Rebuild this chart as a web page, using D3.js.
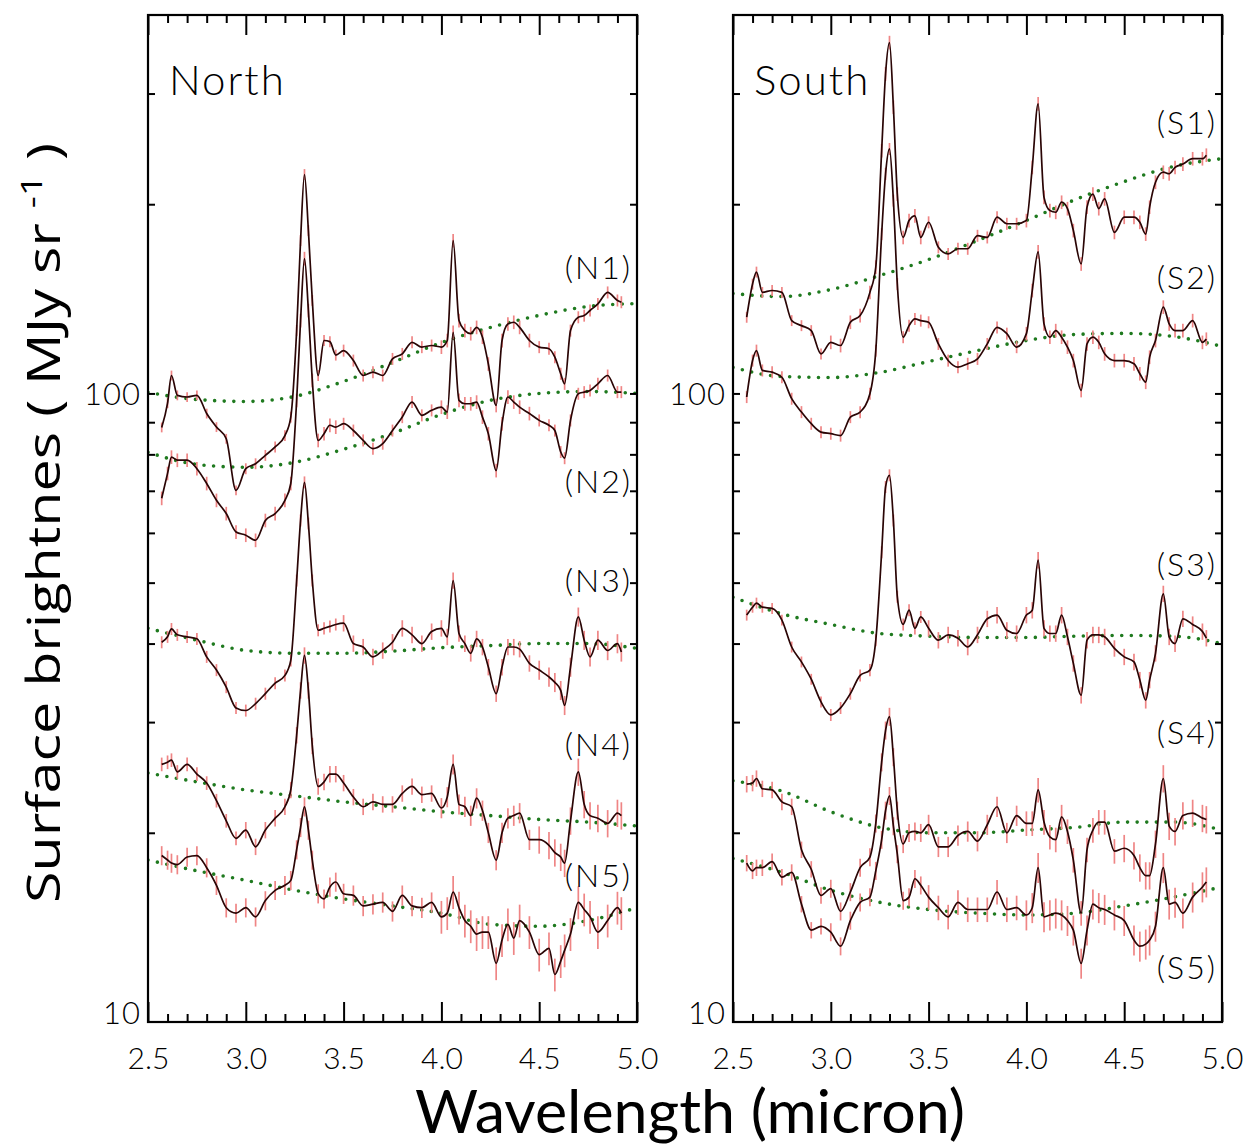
<!DOCTYPE html>
<html><head><meta charset="utf-8">
<script src="https://cdn.jsdelivr.net/npm/d3@7"></script>
<style>body{margin:0;background:#fff} svg{display:block}</style>
</head><body>
<svg id="chart" width="1253" height="1147"></svg>
<script>
// ---------------- DATA ----------------
const wavelength = [2.57,2.60,2.62,2.65,2.70,2.75,2.80,2.85,2.90,2.95,3.00,3.05,3.10,3.15,3.20,3.23,3.26,3.28,3.30,3.32,3.34,3.37,3.40,3.43,3.46,3.50,3.55,3.60,3.65,3.70,3.75,3.80,3.85,3.90,3.95,4.00,4.03,4.06,4.09,4.12,4.15,4.18,4.21,4.24,4.28,4.31,4.34,4.37,4.40,4.45,4.50,4.55,4.58,4.61,4.63,4.66,4.70,4.73,4.76,4.80,4.85,4.90,4.92];

const N1 = [88.3,96.5,106.8,99.3,98.7,99.3,92.9,88.4,84.7,70.1,75.9,77.3,79.7,82.2,85.7,91.7,125.9,175.1,223,181.6,140.6,106.8,121.4,120.9,115.1,117.0,112.8,106.8,108.1,106.8,113.5,115.6,120.6,118.5,119.2,118.5,121.4,175,130.6,125.9,124.5,127.4,122.9,111.4,95.7,121.4,129.0,129.8,127.4,121.4,118.5,117.8,114.2,107.5,103.6,125.9,132.2,133.0,135.5,138.8,144.8,140.6,139.7];
const N2 = [68.1,74.6,79.2,78.3,78.3,75.9,71.9,67.6,64.4,60.2,59.5,58.4,62.8,64.4,67.6,71.9,97.5,130.6,163.9,135.5,104.9,84.2,86.3,89.0,88.4,89.5,87.3,84.2,81.7,83.2,87.3,91.7,96.9,92.3,94.0,95.1,93.4,125.1,97.5,96.3,96.3,96.9,91.7,86.3,75.4,89.5,98.7,96.9,95.1,92.9,90.6,89.0,87.3,80.7,78.9,90.6,99.9,100.5,101.1,103.6,106.8,100.5,100.5];
const N3 = [40.2,41.0,42.2,41.3,41.0,40.7,38.1,36.3,34.1,31.6,31.3,32.1,33.3,34.6,35.6,37.6,50.4,62.8,72.2,62.1,50.4,42.0,42.3,42.6,42.9,43.1,40.0,39.5,38.1,39.0,40.2,42.3,41.3,40.0,41.8,42.3,41.0,50.4,41.5,40.0,38.6,40.7,39.5,36.7,33.3,36.7,39.5,39.5,39.2,37.2,36.3,35.4,34.7,33.7,31.9,36.7,44.1,40.5,38.1,40.5,39.0,40.0,38.8];
const N4 = [25.7,25.9,26.1,25.0,25.7,24.8,24.0,22.5,20.9,19.6,20.2,19.0,20.2,21.1,22.0,23.4,28.6,33.7,38.3,33.7,27.5,23.7,24.1,24.8,24.8,24.0,22.8,22.0,22.4,22.2,22.2,23.1,23.7,23.0,23.1,21.9,22.8,25.7,22.2,22.0,21.3,22.7,21.7,20.0,18.1,20.0,21.1,21.3,21.5,19.5,19.5,19.1,18.6,18.3,17.9,20.9,25.0,22.2,21.3,21.1,20.7,21.5,21.3];
const N5 = [18.4,18.1,17.9,17.8,18.3,18.4,17.6,16.5,15.2,14.9,15.2,14.7,15.6,16.2,16.5,16.8,18.8,20.4,22.0,20.2,18.1,16.0,15.7,16.4,16.7,16.0,15.9,15.3,15.4,15.5,15.0,15.9,15.3,15.2,15.5,14.7,14.9,16.1,15.2,14.5,14.2,13.8,13.9,13.9,12.4,13.5,14.3,13.6,14.5,13.9,12.8,13.1,11.9,12.5,13.0,13.8,15.5,15.1,14.7,13.9,14.5,15.2,14.9];

const S1 = [132.2,149.3,156.0,144.8,145.8,144.8,130.6,128.2,125.9,115.6,120.6,119.2,129.8,133.0,144.8,158.9,243.4,322.5,361.6,285.4,207.6,177.1,188.4,191.7,177.1,187.2,170.8,166.7,169.9,169.9,178.2,177.1,190.7,186.2,186.2,188.4,228.9,289.0,205.1,195.4,194.2,201.5,196.8,181.6,160.7,197.9,207.6,196.8,204.0,180.4,190.7,190.7,187.2,179.3,197.9,216.8,224.9,223.6,228.9,231.7,236.3,236.3,239.4];
const S2 = [98.7,112.8,117.0,108.8,108.1,106.1,98.1,93.4,89.5,86.8,86.3,85.7,91.7,93.4,99.9,117.0,179.3,223.6,244.9,202.7,149.3,122.9,128.2,131.4,130.6,129.8,119.9,112.8,110.1,111.5,113.5,119.9,127.4,124.5,118.5,124.5,145.8,168.0,129.0,122.9,125.9,122.9,118.5,112.8,101.1,119.9,122.9,120.6,115.6,112.8,112.8,111.5,107.5,104.2,114.2,121.4,137.2,129.0,125.9,125.9,130.6,120.6,122.0];
const S3 = [44.4,45.7,46.4,45.7,45.5,43.6,39.5,37.4,35.1,32.3,30.8,31.6,33.3,35.6,36.3,40.5,55.9,71.0,74.1,62.8,47.5,42.9,45.2,42.3,44.1,42.3,40.5,41.3,40.8,39.5,41.3,43.8,44.4,42.0,41.5,44.4,45.2,54.3,42.3,41.5,41.5,44.4,41.0,37.2,33.1,40.5,41.3,41.3,41.0,39.3,38.1,37.4,35.0,32.5,35.0,38.6,48.0,41.0,40.0,43.8,42.9,41.8,40.8];
const S4 = [23.9,24.0,24.4,23.5,23.4,22.4,22.0,18.8,17.5,15.9,16.3,15.0,16.1,17.6,18.3,20.7,25.9,29.1,30.6,26.4,21.7,19.2,20.0,20.1,20.0,20.6,19.0,19.0,19.8,20.1,19.4,20.6,22.0,20.0,21.3,20.7,20.7,23.4,20.8,19.7,19.5,21.2,20.1,18.1,14.9,18.8,20.2,20.8,20.8,18.7,18.9,18.4,17.6,17.1,17.1,19.2,24.4,20.5,20.1,21.3,21.5,21.1,21.0];
const S5 = [17.9,17.4,17.6,17.6,18.0,17.0,17.3,15.4,14.0,14.2,13.9,13.2,14.5,15.5,15.8,17.4,19.5,21.7,22.9,20.5,18.5,15.6,15.8,16.9,16.5,15.8,15.2,14.7,15.5,15.1,15.1,15.1,16.1,15.1,15.2,14.8,15.2,17.6,14.7,14.8,14.9,14.8,14.5,14.0,12.4,14.0,15.4,15.2,15.1,14.8,14.5,13.5,13.2,13.3,13.5,14.2,17.6,15.4,15.5,14.9,15.8,16.4,16.7];

// continuum (dotted green) sampled at these wavelengths
const contWavelength = [2.5,2.75,3.0,3.25,3.5,3.75,4.0,4.25,4.5,4.75,5.0];
const N1cont = [100.4,97.8,97.1,98.9,104.5,112.0,120.5,127.3,133.1,137.5,139.0];
const N2cont = [80.6,77.1,76.3,77.7,81.5,86.4,92.6,97.5,100.0,100.7,100.0];
const N3cont = [42.3,40.5,39.0,38.6,38.6,38.9,39.4,39.7,40.0,40.0,39.3];
const N4cont = [24.9,24.1,23.4,22.9,22.4,22.0,21.6,21.3,21.0,20.8,20.5];
const N5cont = [18.1,17.4,16.8,16.2,15.7,15.3,14.9,14.3,14.2,14.5,15.2];
const S1cont = [144.2,142.6,146.3,154.0,163.3,175.1,188.4,203.4,217.3,229.6,236.3];
const S2cont = [110.0,106.4,106.0,108.0,112.4,117.0,121.4,124.1,124.6,123.2,118.8];
const S3cont = [47.4,44.6,42.9,41.5,41.1,40.9,40.9,41.1,41.2,41.1,40.0];
const S4cont = [24.2,23.3,21.6,20.4,20.0,20.0,20.2,20.4,20.8,20.8,20.2];
const S5cont = [18.2,17.3,16.2,15.5,15.1,14.9,14.8,14.9,15.3,15.8,16.4];

// relative error per wavelength band [2.5-3.0, 3.0-3.5, 3.5-4.0, 4.0-4.5, 4.5-5.0]
const errBandEdges = [2.5,3.0,3.5,4.0,4.5,5.0];
const N1err = [0.018,0.02,0.022,0.025,0.022];
const N2err = [0.025,0.025,0.022,0.025,0.022];
const N3err = [0.022,0.022,0.03,0.03,0.035];
const N4err = [0.025,0.03,0.03,0.037,0.05];
const N5err = [0.035,0.035,0.037,0.06,0.06];
const S1err = [0.02,0.025,0.022,0.025,0.025];
const S2err = [0.022,0.022,0.022,0.025,0.025];
const S3err = [0.02,0.022,0.03,0.03,0.03];
const S4err = [0.03,0.033,0.037,0.045,0.05];
const S5err = [0.03,0.033,0.045,0.055,0.055];

const panelTitles = ["North","South"];
const northLabels = ["(N1)","(N2)","(N3)","(N4)","(N5)"];
const southLabels = ["(S1)","(S2)","(S3)","(S4)","(S5)"];
const xMajorTicks = [2.5,3.0,3.5,4.0,4.5,5.0];
const xMinorTicks = [2.6,2.7,2.8,2.9,3.1,3.2,3.3,3.4,3.6,3.7,3.8,3.9,4.1,4.2,4.3,4.4,4.6,4.7,4.8,4.9];
const yMinorTicks = [20,30,40,50,60,70,80,90,100,200,300];
const yLabelTicks = [10,100];
const xTitle = "Wavelength (micron)";
const yTitle = "Surface brightnes ( MJy sr";

// ---------------- LAYOUT ----------------
const svg = d3.select("#chart");
const plotTop = 15, plotBottom = 1022;
const y = d3.scaleLog().domain([10, 400]).range([plotBottom, plotTop]);

const panels = [
  {title: panelTitles[0], x0: 148, x1: 637, series: [N1,N2,N3,N4,N5], conts: [N1cont,N2cont,N3cont,N4cont,N5cont],
   errs: [N1err,N2err,N3err,N4err,N5err], labels: northLabels, labelY: [279,493,592,756,887]},
  {title: panelTitles[1], x0: 733, x1: 1222, series: [S1,S2,S3,S4,S5], conts: [S1cont,S2cont,S3cont,S4cont,S5cont],
   errs: [S1err,S2err,S3err,S4err,S5err], labels: southLabels, labelY: [134,289,576,744,979]}
];

const labelFont = "Lato, 'DejaVu Sans', sans-serif";
const tickFont = "Lato, 'Open Sans', sans-serif";
const titleFont = "Lato, 'Open Sans', sans-serif";
const yTitleFont = "'Open Sans', sans-serif";

panels.forEach((p, pi) => {
  const x = d3.scaleLinear().domain([2.5, 5.0]).range([p.x0, p.x1]);
  const g = svg.append("g");
  const clipId = "clip" + pi;
  svg.append("clipPath").attr("id", clipId).append("rect")
    .attr("x", p.x0).attr("y", plotTop).attr("width", p.x1 - p.x0).attr("height", plotBottom - plotTop);
  const plot = g.append("g").attr("clip-path", `url(#${clipId})`);

  // continuum dotted lines
  const contLine = d3.line().x(d => x(d[0])).y(d => y(d[1])).curve(d3.curveMonotoneX);
  p.conts.forEach(c => {
    plot.append("path").datum(d3.zip(contWavelength, c))
      .attr("d", contLine).attr("fill", "none")
      .attr("stroke", "#1f7a1f").attr("stroke-width", 3.6)
      .attr("stroke-linecap", "round").attr("stroke-dasharray", "0 9.6");
  });

  // error bars
  const band = w => Math.min(4, Math.max(0, d3.bisectRight(errBandEdges, w) - 1));
  p.series.forEach((s, si) => {
    const e = p.errs[si];
    const data = d3.zip(wavelength, s);
    plot.append("g").selectAll("line").data(data).join("line")
      .attr("x1", d => x(d[0])).attr("x2", d => x(d[0]))
      .attr("y1", d => y(d[1] * (1 + e[band(d[0])])))
      .attr("y2", d => y(d[1] * (1 - e[band(d[0])])))
      .attr("stroke", "#ef8585").attr("stroke-width", 1.7);
  });

  // spectra
  const specLine = d3.line().x(d => x(d[0])).y(d => y(d[1])).curve(d3.curveMonotoneX);
  p.series.forEach(s => {
    plot.append("path").datum(d3.zip(wavelength, s))
      .attr("d", specLine).attr("fill", "none")
      .attr("stroke", "#2a0505").attr("stroke-width", 1.7);
  });

  // axes (ticks inward)
  const styleAxis = sel => { sel.select(".domain").remove(); sel.selectAll("line").attr("stroke", "#000").attr("stroke-width", 2); };
  g.append("g").attr("transform", `translate(0,${plotBottom})`)
    .call(d3.axisBottom(x).tickValues(xMajorTicks).tickSize(-20).tickPadding(0).tickFormat(d3.format(".1f")))
    .call(styleAxis)
    .call(a => a.selectAll("text").attr("dy", null).attr("y", 47)
      .attr("font-family", tickFont).attr("font-size", 30).attr("font-weight", 300).attr("fill", "#000"));
  g.append("g").attr("transform", `translate(0,${plotBottom})`)
    .call(d3.axisBottom(x).tickValues(xMinorTicks).tickSize(-8).tickFormat(""))
    .call(styleAxis);
  g.append("g").attr("transform", `translate(0,${plotTop})`)
    .call(d3.axisTop(x).tickValues(xMajorTicks).tickSize(-20).tickFormat(""))
    .call(styleAxis);
  g.append("g").attr("transform", `translate(0,${plotTop})`)
    .call(d3.axisTop(x).tickValues(xMinorTicks).tickSize(-8).tickFormat(""))
    .call(styleAxis);
  g.append("g").attr("transform", `translate(${p.x0},0)`)
    .call(d3.axisLeft(y).tickValues(yMinorTicks).tickSize(-7).tickFormat(""))
    .call(styleAxis);
  g.append("g").attr("transform", `translate(${p.x1},0)`)
    .call(d3.axisRight(y).tickValues(yMinorTicks).tickSize(-7).tickFormat(""))
    .call(styleAxis);

  // y labels 10 / 100
  g.selectAll("text.ylab").data(yLabelTicks).join("text").attr("class", "ylab")
    .attr("x", p.x0 - 7).attr("y", d => y(d) + (d === 10 ? -9 : 0)).attr("dy", "0.36em")
    .attr("text-anchor", "end").attr("font-family", labelFont).attr("font-size", 31)
    .attr("letter-spacing", 1).attr("font-weight", 300).attr("fill", "#000").text(d => d);

  // frame
  g.append("rect").attr("x", p.x0).attr("y", plotTop).attr("width", p.x1 - p.x0).attr("height", plotBottom - plotTop)
    .attr("fill", "none").attr("stroke", "#000").attr("stroke-width", 2.2);

  // titles and labels
  g.append("text").attr("x", p.x0 + 21).attr("y", 95).attr("font-family", labelFont)
    .attr("font-size", 42).attr("letter-spacing", 2).attr("font-weight", 300).attr("fill", "#000").text(p.title);
  p.labels.forEach((lab, i) => {
    g.append("text").attr("x", p.x1 - 5).attr("y", p.labelY[i]).attr("text-anchor", "end")
      .attr("font-family", labelFont).attr("font-size", 32).attr("letter-spacing", 2)
      .attr("font-weight", 300).attr("fill", "#000").text(lab);
  });
});

// axis titles
svg.append("text").attr("x", 690).attr("y", 1133).attr("text-anchor", "middle")
  .attr("font-family", titleFont).attr("font-size", 60)
  .attr("textLength", 550).attr("lengthAdjust", "spacingAndGlyphs").text(xTitle);

const yt = svg.append("text").attr("transform", "translate(60,523) rotate(-90) scale(1.25,1)")
  .attr("text-anchor", "middle").attr("font-family", yTitleFont).attr("font-size", 46);
yt.append("tspan").text(yTitle + " ");
yt.append("tspan").attr("font-size", 30).attr("dy", -18).text("-1");
yt.append("tspan").attr("dy", 18).text(" )");
</script>
</body></html>
